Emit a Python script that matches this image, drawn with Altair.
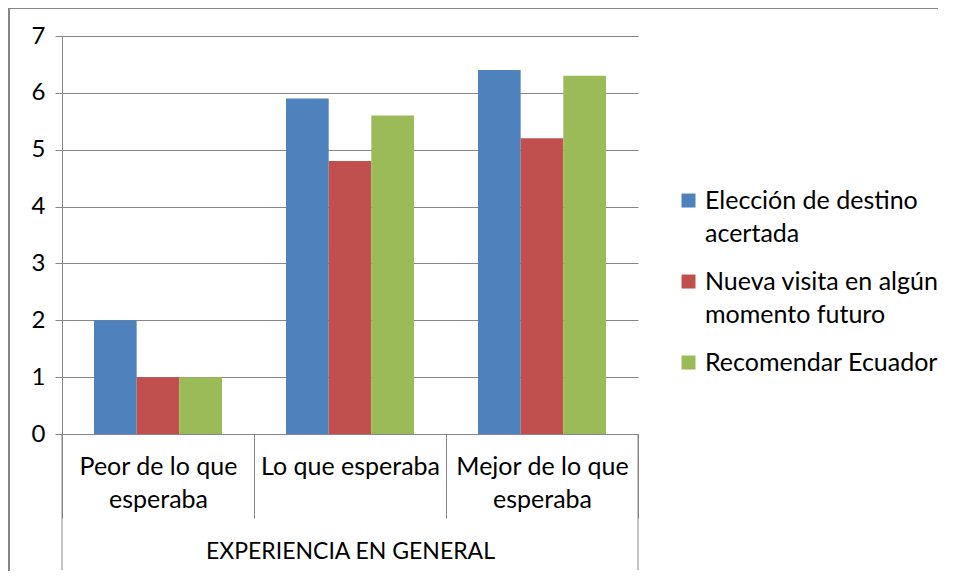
import altair as alt
import pandas as pd

categories = ["Peor de lo que|esperaba", "Lo que esperaba", "Mejor de lo que|esperaba"]
series = ["Elección de destino|acertada", "Nueva visita en algún|momento futuro", "Recomendar Ecuador"]
eleccion = [2, 5.9, 6.4]
nueva_visita = [1, 4.8, 5.2]
recomendar = [1, 5.6, 6.3]
colors = ["#4F81BD", "#C0504D", "#9BBB59"]
y_ticks = [0, 1, 2, 3, 4, 5, 6, 7]
group_title = "EXPERIENCIA EN GENERAL"

rows = []
for s, vals in zip(series, [eleccion, nueva_visita, recomendar]):
    for c, v in zip(categories, vals):
        rows.append({"categoria": c, "serie": s, "valor": v})
df = pd.DataFrame(rows)

FONT = "Lato"
GRID = "#868686"
W, H = 576, 398

bars = alt.Chart(df).mark_bar().encode(
    x=alt.X(
        "categoria:N",
        sort=categories,
        scale=alt.Scale(paddingInner=0, paddingOuter=0),
        axis=alt.Axis(
            title=group_title,
            labelAngle=0,
            labelExpr="split(datum.label, '|')",
            labelFont=FONT,
            labelFontSize=25,
            labelColor="black",
            labelLineHeight=33,
            labelBaseline="top",
            labelPadding=-64,
            labelLimit=300,
            tickBand="extent",
            tickSize=84,
            tickColor=GRID,
            domainColor=GRID,
            titleFont=FONT,
            titleFontSize=23,
            titleFontWeight="normal",
            titleColor="black",
            titleBaseline="middle",
            titleY=117,
        ),
    ),
    xOffset=alt.XOffset("serie:N", sort=series, scale=alt.Scale(paddingInner=0, paddingOuter=0.75)),
    y=alt.Y(
        "valor:Q",
        scale=alt.Scale(domain=[0, 7], nice=False),
        axis=alt.Axis(
            title=None,
            values=y_ticks,
            labelFont=FONT,
            labelFontSize=24,
            labelColor="black",
            labelPadding=10,
            tickSize=7,
            tickColor=GRID,
            domainColor=GRID,
            gridColor=GRID,
            gridOpacity=1,
        ),
    ),
    color=alt.Color(
        "serie:N",
        sort=series,
        scale=alt.Scale(domain=series, range=colors),
        legend=alt.Legend(
            title=None,
            orient="none",
            legendX=614,
            legendY=136,
            symbolType="M-1,1.29H1V3.29H-1Z",
            symbolSize=196,
            symbolStrokeWidth=0,
            labelBaseline="line-top",
            labelFont=FONT,
            labelFontSize=25,
            labelColor="black",
            labelOffset=4,
            labelLimit=330,
            rowPadding=6,
            padding=0,
            labelExpr="split(datum.label, '|')",
        ),
    ),
)

one = pd.DataFrame({"k": [0]})
left_group = alt.Chart(one).mark_rule(color=GRID, strokeWidth=1).encode(
    x=alt.value(0), y=alt.value(H), y2=alt.value(H + 136)
)
right_group = alt.Chart(one).mark_rule(color=GRID, strokeWidth=1).encode(
    x=alt.value(W), y=alt.value(H), y2=alt.value(H + 136)
)
border_left = alt.Chart(one).mark_rule(color=GRID, strokeWidth=2).encode(
    x=alt.value(-53), y=alt.value(-28), y2=alt.value(H + 200)
)
border_top = alt.Chart(one).mark_rule(color=GRID, strokeWidth=2).encode(
    x=alt.value(-53), x2=alt.value(W + 320), y=alt.value(-28)
)

chart = alt.layer(bars, left_group, right_group, border_left, border_top).properties(
    width=W,
    height=H,
    autosize=alt.AutoSizeParams(type="none"),
    padding={"left": 54, "top": 28, "right": 300, "bottom": 137},
).configure(style={"guide-label": {"lineHeight": 33}}).configure_view(stroke=None)

chart.save("out.html", embed_options={"renderer": "svg", "actions": False})
